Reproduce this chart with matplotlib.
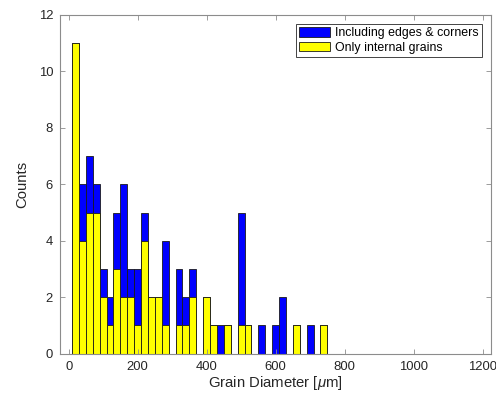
import numpy as np
import matplotlib
matplotlib.use('Agg')
import matplotlib.pyplot as plt

# histogram bins: width 20 um, first edge at 10 um
bin_edges = list(range(10, 1211, 20))

# counts (bins beyond 750 um are empty)
counts_all = [11, 6, 7, 6, 3, 2, 5, 6, 3, 3, 5, 2, 2, 4, 0, 3, 2, 3, 0, 2,
              1, 1, 1, 0, 5, 1, 0, 1, 0, 1, 2, 0, 1, 0, 1, 0, 1]
counts_internal = [11, 4, 5, 5, 2, 1, 3, 2, 2, 1, 4, 2, 2, 1, 0, 1, 1, 2, 0, 2,
                   1, 0, 1, 0, 1, 1, 0, 0, 0, 0, 0, 0, 1, 0, 0, 0, 1]

labels = ['Including edges & corners', 'Only internal grains']
xticks = [0, 200, 400, 600, 800, 1000, 1200]
yticks = [0, 2, 4, 6, 8, 10, 12]

plt.rcParams['font.family'] = ['Liberation Sans', 'DejaVu Sans']
plt.rcParams['mathtext.fontset'] = 'custom'
plt.rcParams['mathtext.it'] = 'Liberation Sans:italic'
plt.rcParams['mathtext.rm'] = 'Liberation Sans'

edges = np.array(bin_edges, dtype=float)
nb = len(edges) - 1
h_all = np.zeros(nb)
h_all[:len(counts_all)] = counts_all
h_int = np.zeros(nb)
h_int[:len(counts_internal)] = counts_internal

fig = plt.figure(figsize=(4.96, 3.93), dpi=100)
ax = fig.add_axes([0.121, 0.100, 0.868, 0.862])

axis_col = '#8c8c8c'
text_col = '#262626'

ax.bar(edges[:-1], h_all, width=20, align='edge', color='#0000ff',
       edgecolor='#1a1a1a', linewidth=0.6, label=labels[0])
ax.bar(edges[:-1], h_int, width=20, align='edge', color='#ffff00',
       edgecolor='#1a1a1a', linewidth=0.6, label=labels[1])

ax.set_xlim(-25, 1223)
ax.set_ylim(0, 12)
ax.set_xticks(xticks)
ax.set_yticks(yticks)

for s in ax.spines.values():
    s.set_color(axis_col)
    s.set_linewidth(0.8)
ax.tick_params(direction='in', length=3.5, width=0.6, color=axis_col,
               labelcolor=text_col, labelsize=9.4, top=True, right=True)
ax.tick_params(axis='x', pad=5)
ax.tick_params(axis='y', pad=5)

ax.set_xlabel(r'Grain Diameter [$\mu$m]', fontsize=10.7, color=text_col, labelpad=1)
ax.set_ylabel('Counts', fontsize=10.7, color=text_col, labelpad=7)

leg = ax.legend(loc='upper right', fontsize=8.9, frameon=True, fancybox=False,
                edgecolor='#262626', framealpha=1.0, borderpad=0.3,
                handlelength=2.5, handleheight=0.75, handletextpad=0.35,
                labelspacing=0.2, borderaxespad=0.7)
leg.get_frame().set_linewidth(0.6)

fig.savefig('out.png', dpi=100)
